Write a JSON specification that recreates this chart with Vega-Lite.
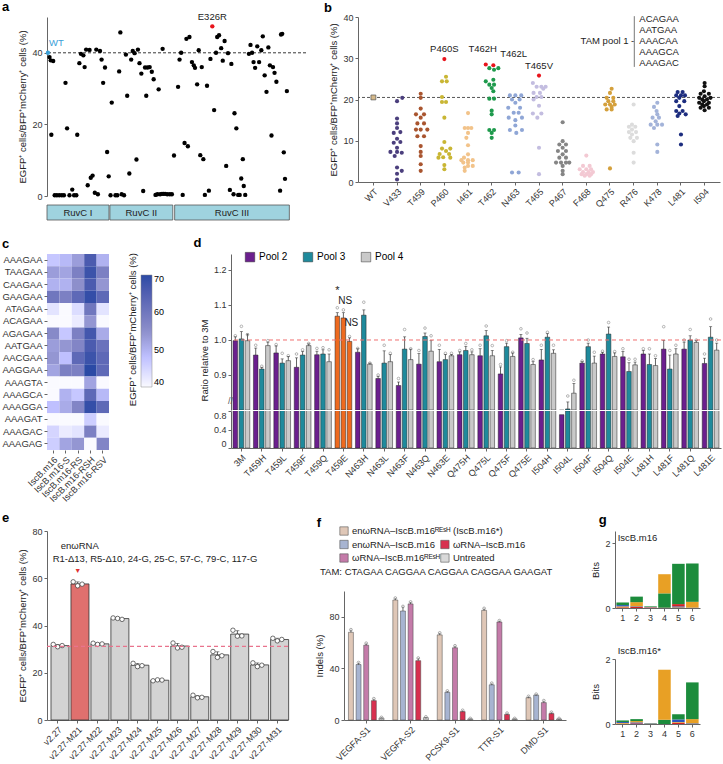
{
"$schema":"https://vega.github.io/schema/vega-lite/v6.json",
"padding":{"left":1,"top":1,"right":0,"bottom":0},
"config":{
 "font":"Liberation Sans",
 "view":{"stroke":null},
 "axis":{"labelFontSize":9,"titleFontSize":9.5,"titleFontWeight":"normal","labelColor":"#333","titleColor":"#222","domainColor":"#666","tickColor":"#666","tickSize":3,"grid":false,"labelPadding":2,"titlePadding":4},
 "title":{"fontSize":13,"fontWeight":"bold","anchor":"start","frame":"bounds","offset":2,"color":"#000"},
 "legend":{"labelFontSize":9.5,"titleFontSize":9.5,"titleFontWeight":"normal"}
},
"datasets":{"dd":[
    {"m":"3M","p":"Pool 2","v":0.998,"hi":1.009,"r":1.012},{"m":"3M","p":"Pool 3","v":1.003,"hi":1.024,"r":1.039},{"m":"3M","p":"Pool 4","v":0.998,"hi":1.017,"r":1.015},
    {"m":"T459H","p":"Pool 2","v":0.957,"hi":0.977,"r":0.985},{"m":"T459H","p":"Pool 3","v":0.917,"hi":0.922,"r":0.925},{"m":"T459H","p":"Pool 4","v":0.984,"hi":0.994,"r":0.998},
    {"m":"T459L","p":"Pool 2","v":0.963,"hi":0.983,"r":0.987},{"m":"T459L","p":"Pool 3","v":0.934,"hi":0.946,"r":0.962},{"m":"T459L","p":"Pool 4","v":0.941,"hi":0.953,"r":0.955},
    {"m":"T459F","p":"Pool 2","v":0.922,"hi":0.949,"r":0.96},{"m":"T459F","p":"Pool 3","v":0.957,"hi":0.967,"r":0.972},{"m":"T459F","p":"Pool 4","v":0.984,"hi":0.989,"r":0.99},
    {"m":"T459Q","p":"Pool 2","v":0.958,"hi":0.968,"r":0.976},{"m":"T459Q","p":"Pool 3","v":0.96,"hi":0.972,"r":0.978},{"m":"T459Q","p":"Pool 4","v":0.938,"hi":0.96,"r":0.972},
    {"m":"T459E","p":"Pool 2","v":1.068,"hi":1.078,"r":1.092},{"m":"T459E","p":"Pool 3","v":1.063,"hi":1.078,"r":1.086},{"m":"T459E","p":"Pool 4","v":0.996,"hi":1.006,"r":1.01},
    {"m":"N463H","p":"Pool 2","v":0.965,"hi":0.975,"r":0.976},{"m":"N463H","p":"Pool 3","v":1.071,"hi":1.086,"r":1.108},{"m":"N463H","p":"Pool 4","v":0.931,"hi":0.934,"r":0.934},
    {"m":"N463L","p":"Pool 2","v":0.89,"hi":0.896,"r":0.9},{"m":"N463L","p":"Pool 3","v":0.934,"hi":0.969,"r":0.985},{"m":"N463L","p":"Pool 4","v":0.938,"hi":0.958,"r":0.962},
    {"m":"N463F","p":"Pool 2","v":0.87,"hi":0.88,"r":0.89},{"m":"N463F","p":"Pool 3","v":0.974,"hi":1.009,"r":1.03},{"m":"N463F","p":"Pool 4","v":0.944,"hi":0.974,"r":0.975},
    {"m":"N463Q","p":"Pool 2","v":0.931,"hi":0.961,"r":0.97},{"m":"N463Q","p":"Pool 3","v":1.01,"hi":1.02,"r":1.034},{"m":"N463Q","p":"Pool 4","v":0.968,"hi":0.998,"r":1.012},
    {"m":"N463E","p":"Pool 2","v":0.938,"hi":0.973,"r":0.985},{"m":"N463E","p":"Pool 3","v":0.944,"hi":0.959,"r":0.962},{"m":"N463E","p":"Pool 4","v":0.955,"hi":0.959,"r":0.962},
    {"m":"Q475H","p":"Pool 2","v":0.958,"hi":0.966,"r":0.97},{"m":"Q475H","p":"Pool 3","v":0.97,"hi":0.982,"r":0.99},{"m":"Q475H","p":"Pool 4","v":0.958,"hi":0.966,"r":0.972},
    {"m":"Q475L","p":"Pool 2","v":0.955,"hi":0.975,"r":0.985},{"m":"Q475L","p":"Pool 3","v":1.012,"hi":1.027,"r":1.04},{"m":"Q475L","p":"Pool 4","v":0.955,"hi":0.97,"r":0.984},
    {"m":"Q475F","p":"Pool 2","v":0.903,"hi":0.923,"r":0.93},{"m":"Q475F","p":"Pool 3","v":0.981,"hi":0.991,"r":0.998},{"m":"Q475F","p":"Pool 4","v":0.953,"hi":0.963,"r":0.965},
    {"m":"Q475E","p":"Pool 2","v":1.006,"hi":1.016,"r":1.032},{"m":"Q475E","p":"Pool 3","v":0.99,"hi":1.005,"r":1.02},{"m":"Q475E","p":"Pool 4","v":0.93,"hi":0.938,"r":0.944},
    {"m":"I504H","p":"Pool 2","v":0.943,"hi":0.973,"r":0.985},{"m":"I504H","p":"Pool 3","v":1.008,"hi":1.018,"r":1.022},{"m":"I504H","p":"Pool 4","v":0.962,"hi":0.972,"r":0.985},
    {"m":"I504L","p":"Pool 2","v":0.72,"hi":0.72,"r":0.72},{"m":"I504L","p":"Pool 3","v":0.803,"hi":0.823,"r":0.84},{"m":"I504L","p":"Pool 4","v":0.848,"hi":0.876,"r":0.885},
    {"m":"I504F","p":"Pool 2","v":0.934,"hi":0.938,"r":0.94},{"m":"I504F","p":"Pool 3","v":0.981,"hi":0.991,"r":1.0},{"m":"I504F","p":"Pool 4","v":0.934,"hi":0.954,"r":0.965},
    {"m":"I504Q","p":"Pool 2","v":0.96,"hi":0.965,"r":0.968},{"m":"I504Q","p":"Pool 3","v":1.017,"hi":1.037,"r":1.05},{"m":"I504Q","p":"Pool 4","v":0.953,"hi":0.963,"r":0.967},
    {"m":"I504E","p":"Pool 2","v":0.952,"hi":0.967,"r":0.975},{"m":"I504E","p":"Pool 3","v":0.91,"hi":0.935,"r":0.945},{"m":"I504E","p":"Pool 4","v":0.929,"hi":0.937,"r":0.945},
    {"m":"L481H","p":"Pool 2","v":0.96,"hi":0.97,"r":0.975},{"m":"L481H","p":"Pool 3","v":0.93,"hi":0.96,"r":0.975},{"m":"L481H","p":"Pool 4","v":0.927,"hi":0.947,"r":0.955},
    {"m":"L481F","p":"Pool 2","v":0.974,"hi":0.999,"r":1.038},{"m":"L481F","p":"Pool 3","v":0.917,"hi":0.957,"r":0.97},{"m":"L481F","p":"Pool 4","v":0.96,"hi":0.975,"r":0.985},
    {"m":"L481Q","p":"Pool 2","v":0.974,"hi":0.994,"r":1.0},{"m":"L481Q","p":"Pool 3","v":1.0,"hi":1.012,"r":1.03},{"m":"L481Q","p":"Pool 4","v":0.993,"hi":0.998,"r":1.0},
    {"m":"L481E","p":"Pool 2","v":0.933,"hi":0.948,"r":0.96},{"m":"L481E","p":"Pool 3","v":1.008,"hi":1.038,"r":1.06},{"m":"L481E","p":"Pool 4","v":0.971,"hi":0.991,"r":1.0}
]},
"columns":1,
"align":"none",
"spacing":8,
"resolve":{"scale":{"x":"independent","y":"independent","color":"independent","fill":"independent","xOffset":"independent"}},
"concat":[
{"columns":1,"align":"none","spacing":16,"resolve":{"scale":{"x":"independent","y":"independent","color":"independent","fill":"independent","xOffset":"independent"}},"concat":[
{"columns":2,"align":"none","spacing":17,"resolve":{"scale":{"x":"independent","y":"independent","color":"independent","fill":"independent","xOffset":"independent"}},"concat":[
 {"spacing":3,"resolve":{"scale":{"x":"independent","y":"independent","color":"independent"}},"vconcat":[
  {"title":{"text":"a","frame":"group","dx":-45,"offset":-2},"width":259,"height":179,
   "layer":[
    {"data":{"values":[{"y":40}]},"mark":{"type":"rule","strokeDash":[3,2],"color":"#222","strokeWidth":0.9},"encoding":{"y":{"field":"y","type":"quantitative","scale":{"domain":[0,50]},"title":"EGFP⁺ cells/BFP⁺mCherry⁺ cells (%)"}}},
    {"data":{"values":[{"p":2.7,"v":38.8},{"p":4,"v":37.9},{"p":6.7,"v":37.7},{"p":4.7,"v":17.1},{"p":8.3,"v":0.2},{"p":10.7,"v":0.2},{"p":13.3,"v":0.2},{"p":16,"v":0.2},{"p":18.3,"v":0.2},{"p":20,"v":31.6},{"p":21.7,"v":18.9},{"p":24.3,"v":0.2},{"p":27.3,"v":1.8},{"p":29.3,"v":0.2},{"p":31.7,"v":0.2},{"p":32.7,"v":17.1},{"p":35,"v":37.1},{"p":36.7,"v":39.7},{"p":39.3,"v":39.3},{"p":40.7,"v":36},{"p":42.3,"v":40.9},{"p":44,"v":3},{"p":46,"v":40.8},{"p":47.3,"v":5.1},{"p":49.3,"v":5.7},{"p":51.7,"v":0.9},{"p":53.3,"v":40.9},{"p":55,"v":0.5},{"p":57.3,"v":40.5},{"p":59,"v":38.1},{"p":60.7,"v":31.6},{"p":62.7,"v":35.9},{"p":65,"v":12.3},{"p":66.7,"v":5.5},{"p":68.7,"v":0.2},{"p":70,"v":26.1},{"p":74,"v":0.2},{"p":76,"v":0.2},{"p":78,"v":34.8},{"p":79.3,"v":45.7},{"p":80.7,"v":0.5},{"p":83.3,"v":0.2},{"p":85.3,"v":39.5},{"p":86.7,"v":28},{"p":89,"v":6.3},{"p":91,"v":38.1},{"p":92.7,"v":40.5},{"p":94.7,"v":39.9},{"p":96.7,"v":10.2},{"p":98.3,"v":40.9},{"p":100,"v":37.1},{"p":102,"v":34.2},{"p":104,"v":1.4},{"p":106,"v":35.9},{"p":107.3,"v":28},{"p":108.7,"v":35.9},{"p":111,"v":36},{"p":113.3,"v":34.7},{"p":115.3,"v":32.6},{"p":117.3,"v":0.3},{"p":119.3,"v":0.5},{"p":120.7,"v":29.8},{"p":122.3,"v":0.5},{"p":124.3,"v":0.6},{"p":125,"v":41.1},{"p":126,"v":0.6},{"p":127.7,"v":0.6},{"p":130,"v":0.5},{"p":132.7,"v":0.5},{"p":135,"v":0.5},{"p":137.3,"v":11.3},{"p":141.7,"v":30.5},{"p":143.3,"v":38.1},{"p":145,"v":40},{"p":146.7,"v":0.3},{"p":148.7,"v":14.8},{"p":150.7,"v":43.9},{"p":152.3,"v":13.9},{"p":154,"v":44.4},{"p":156.7,"v":37.4},{"p":158.7,"v":36.5},{"p":160,"v":35.8},{"p":162.3,"v":31.2},{"p":164,"v":40.7},{"p":165.7,"v":11.4},{"p":167.3,"v":36},{"p":169,"v":10.3},{"p":170.7,"v":0.3},{"p":173,"v":30.8},{"p":175,"v":1.5},{"p":176.7,"v":38.3},{"p":180.7,"v":24},{"p":182.7,"v":40},{"p":184,"v":44.4},{"p":186,"v":44.9},{"p":188.3,"v":41.3},{"p":190,"v":37.8},{"p":192,"v":43.3},{"p":193.7,"v":8.4},{"p":195.7,"v":39.9},{"p":197.7,"v":1.7},{"p":199.3,"v":36.9},{"p":201.7,"v":0.5},{"p":202.7,"v":23.1},{"p":204.7,"v":18.9},{"p":206.7,"v":0.3},{"p":208.3,"v":0.3},{"p":210,"v":4.9},{"p":211.7,"v":10.3},{"p":212.7,"v":2.8},{"p":214.3,"v":0.3},{"p":218.3,"v":39.7},{"p":220,"v":42.2},{"p":221.7,"v":40},{"p":223.3,"v":37.4},{"p":225,"v":35.8},{"p":227.3,"v":41.8},{"p":229.3,"v":37.4},{"p":231.7,"v":40.7},{"p":233.3,"v":44.6},{"p":235.3,"v":33.7},{"p":237.3,"v":29.1},{"p":239.3,"v":41.5},{"p":241,"v":36.5},{"p":242.7,"v":16.9},{"p":244.3,"v":36},{"p":246,"v":34.4},{"p":248,"v":31.9},{"p":252,"v":1.5},{"p":253,"v":45.1},{"p":254.3,"v":45.3},{"p":256,"v":12.2},{"p":257.3,"v":4.8},{"p":259.3,"v":29.3},{"p":1,"v":40,"k":"WT"},{"p":178.7,"v":47.4,"k":"E326R"}]},
     "mark":{"type":"circle","size":19,"opacity":1},
     "encoding":{"x":{"field":"p","type":"quantitative","scale":{"domain":[0,265]},"axis":null},
      "y":{"field":"v","type":"quantitative","scale":{"domain":[0,50]},"axis":{"values":[0,10,20,30,40,50]},"title":"EGFP⁺ cells/BFP⁺mCherry⁺ cells (%)"},
      "color":{"condition":[{"test":"datum.k === 'WT'","value":"#3aa0d8"},{"test":"datum.k === 'E326R'","value":"#e8141c"}],"value":"#000"}}},
    {"data":{"values":[{"p":1,"v":40,"t":"WT"}]},"mark":{"type":"text","fontSize":9.5,"align":"left","dx":1,"dy":-10,"color":"#3aa0d8"},"encoding":{"x":{"field":"p","type":"quantitative"},"y":{"field":"v","type":"quantitative","title":"EGFP⁺ cells/BFP⁺mCherry⁺ cells (%)"},"text":{"field":"t"}}},
    {"data":{"values":[{"p":178.7,"v":47.4,"t":"E326R"}]},"mark":{"type":"text","fontSize":9.5,"dy":-9,"color":"#222"},"encoding":{"x":{"field":"p","type":"quantitative"},"y":{"field":"v","type":"quantitative","title":"EGFP⁺ cells/BFP⁺mCherry⁺ cells (%)"},"text":{"field":"t"}}}
   ]},
  {"width":259,"height":15,
   "data":{"values":[{"n":"RuvC I","s":0,"e":67},{"n":"RuvC II","s":68,"e":136},{"n":"RuvC III","s":138,"e":262}]},
   "transform":[{"calculate":"(datum.s+datum.e)/2","as":"mid"}],
   "layer":[
    {"mark":{"type":"rect","fill":"#9fd3df","stroke":"#555","strokeWidth":0.8},"encoding":{"x":{"field":"s","type":"quantitative","scale":{"domain":[0,265]},"axis":null},"x2":{"field":"e"}}},
    {"mark":{"type":"text","fontSize":9.5,"color":"#222"},"encoding":{"x":{"field":"mid","type":"quantitative","axis":null},"text":{"field":"n"}}}
   ]}
 ]},
 {"title":{"text":"b","frame":"group","dx":-34,"offset":-2},"width":362,"height":165,
  "layer":[
   {"data":{"values":[{"y":20.5}]},"mark":{"type":"rule","strokeDash":[3,2],"color":"#555","strokeWidth":1},"encoding":{"y":{"field":"y","type":"quantitative","scale":{"domain":[0,40]},"title":"EGFP⁺ cells/BFP⁺mCherry⁺ cells (%)"}}},
   {"data":{"values":[
    {"c":"V433","v":19.6,"j":0},{"c":"V433","v":20.4,"j":0.22},{"c":"V433","v":15.4,"j":0},{"c":"V433","v":14.2,"j":0},{"c":"V433","v":13.1,"j":0},{"c":"V433","v":11.9,"j":-0.14},{"c":"V433","v":12.1,"j":0.14},{"c":"V433","v":10.5,"j":0},{"c":"V433","v":9.5,"j":-0.14},{"c":"V433","v":9.7,"j":0.14},{"c":"V433","v":8.3,"j":0},{"c":"V433","v":7.3,"j":-0.28},{"c":"V433","v":7.3,"j":0},{"c":"V433","v":7.1,"j":0.2},{"c":"V433","v":6.3,"j":-0.1},{"c":"V433","v":3.5,"j":0},{"c":"V433","v":2.7,"j":0.2},{"c":"V433","v":2.0,"j":0},{"c":"V433","v":0.6,"j":0},
    {"c":"T459","v":21.4,"j":0},{"c":"T459","v":20.4,"j":0},{"c":"T459","v":17.8,"j":0},{"c":"T459","v":16.4,"j":-0.2},{"c":"T459","v":16.4,"j":0.14},{"c":"T459","v":15.6,"j":0},{"c":"T459","v":14.2,"j":-0.14},{"c":"T459","v":14.2,"j":0.14},{"c":"T459","v":12.7,"j":-0.2},{"c":"T459","v":12.7,"j":0},{"c":"T459","v":12.7,"j":0.28},{"c":"T459","v":11.1,"j":-0.14},{"c":"T459","v":11.1,"j":0.14},{"c":"T459","v":8.7,"j":0},{"c":"T459","v":7.3,"j":0},{"c":"T459","v":6.3,"j":0},{"c":"T459","v":4.3,"j":0},{"c":"T459","v":2.7,"j":0},
    {"c":"P460","v":29.8,"j":0,"n":"P460S"},{"c":"P460","v":25.5,"j":0.07},{"c":"P460","v":24.4,"j":-0.1},{"c":"P460","v":24.4,"j":0.1},{"c":"P460","v":20.6,"j":-0.1},{"c":"P460","v":19.4,"j":-0.1},{"c":"P460","v":19.4,"j":0.07},{"c":"P460","v":15.6,"j":0},{"c":"P460","v":9.7,"j":0},{"c":"P460","v":8.1,"j":-0.1},{"c":"P460","v":8.1,"j":0.25},{"c":"P460","v":7.5,"j":0.07},{"c":"P460","v":6.8,"j":-0.2},{"c":"P460","v":6.8,"j":0.2},{"c":"P460","v":6.0,"j":-0.05},{"c":"P460","v":5.9,"j":-0.25},{"c":"P460","v":5.9,"j":0.25},{"c":"P460","v":4.1,"j":0},{"c":"P460","v":3.1,"j":0},
    {"c":"I461","v":16.7,"j":0},{"c":"I461","v":13.1,"j":-0.14},{"c":"I461","v":13.1,"j":0},{"c":"I461","v":13.1,"j":0.14},{"c":"I461","v":11.9,"j":0},{"c":"I461","v":10.7,"j":-0.07},{"c":"I461","v":8.9,"j":0},{"c":"I461","v":6.7,"j":0},{"c":"I461","v":5.9,"j":-0.17},{"c":"I461","v":5.3,"j":-0.28},{"c":"I461","v":5.3,"j":0},{"c":"I461","v":5.3,"j":0.2},{"c":"I461","v":4.7,"j":-0.2},{"c":"I461","v":4.7,"j":0},{"c":"I461","v":3.9,"j":0},{"c":"I461","v":3.9,"j":0.2},{"c":"I461","v":3.5,"j":-0.14},{"c":"I461","v":2.7,"j":-0.14},
    {"c":"T462","v":28.5,"j":-0.25,"n":"T462H"},{"c":"T462","v":28.3,"j":0.07,"n":"T462L"},{"c":"T462","v":27.6,"j":-0.1},{"c":"T462","v":27.6,"j":0.28},{"c":"T462","v":27.2,"j":0.1},{"c":"T462","v":24.8,"j":0.07},{"c":"T462","v":24.4,"j":-0.25},{"c":"T462","v":23.6,"j":-0.1},{"c":"T462","v":23.6,"j":0.1},{"c":"T462","v":22.8,"j":0},{"c":"T462","v":22.0,"j":0.07},{"c":"T462","v":20.2,"j":-0.1},{"c":"T462","v":20.2,"j":0.1},{"c":"T462","v":17.3,"j":0},{"c":"T462","v":16.4,"j":0},{"c":"T462","v":12.6,"j":-0.1},{"c":"T462","v":12.6,"j":0.1},{"c":"T462","v":11.9,"j":0},{"c":"T462","v":10.7,"j":0},
    {"c":"N463","v":21.0,"j":-0.23},{"c":"N463","v":21.0,"j":0},{"c":"N463","v":21.0,"j":0.25},{"c":"N463","v":20.0,"j":-0.14},{"c":"N463","v":20.0,"j":0.18},{"c":"N463","v":19.2,"j":0},{"c":"N463","v":18.0,"j":-0.3},{"c":"N463","v":18.0,"j":0.2},{"c":"N463","v":16.8,"j":-0.07},{"c":"N463","v":16.8,"j":0.14},{"c":"N463","v":15.6,"j":-0.28},{"c":"N463","v":15.6,"j":0.28},{"c":"N463","v":15.0,"j":0},{"c":"N463","v":13.7,"j":0},{"c":"N463","v":12.6,"j":-0.23},{"c":"N463","v":12.6,"j":0.28},{"c":"N463","v":11.9,"j":0.04},{"c":"N463","v":2.3,"j":-0.14},{"c":"N463","v":2.3,"j":0.14},
    {"c":"T465","v":25.8,"j":0,"n":"T465V"},{"c":"T465","v":24.0,"j":-0.26},{"c":"T465","v":23.1,"j":-0.1},{"c":"T465","v":23.1,"j":0.1},{"c":"T465","v":23.1,"j":0.28},{"c":"T465","v":22.6,"j":0.18},{"c":"T465","v":21.6,"j":-0.23},{"c":"T465","v":21.6,"j":0.04},{"c":"T465","v":20.6,"j":-0.1},{"c":"T465","v":20.6,"j":0.1},{"c":"T465","v":20.0,"j":-0.23},{"c":"T465","v":18.5,"j":0},{"c":"T465","v":16.6,"j":-0.26},{"c":"T465","v":16.6,"j":0.1},{"c":"T465","v":15.6,"j":-0.07},{"c":"T465","v":8.3,"j":0},{"c":"T465","v":1.9,"j":0},
    {"c":"P467","v":14.5,"j":0},{"c":"P467","v":9.9,"j":0},{"c":"P467","v":9.1,"j":-0.14},{"c":"P467","v":9.1,"j":0.14},{"c":"P467","v":8.3,"j":0},{"c":"P467","v":7.5,"j":-0.2},{"c":"P467","v":7.5,"j":0.14},{"c":"P467","v":6.7,"j":0},{"c":"P467","v":5.9,"j":-0.14},{"c":"P467","v":5.9,"j":0.14},{"c":"P467","v":4.7,"j":-0.28},{"c":"P467","v":4.7,"j":-0.07},{"c":"P467","v":4.7,"j":0.14},{"c":"P467","v":4.7,"j":0.28},{"c":"P467","v":3.9,"j":0},{"c":"P467","v":2.7,"j":0},{"c":"P467","v":1.9,"j":0},
    {"c":"F468","v":6.4,"j":0},{"c":"F468","v":3.9,"j":-0.14},{"c":"F468","v":3.9,"j":0.14},{"c":"F468","v":3.1,"j":-0.28},{"c":"F468","v":3.1,"j":0},{"c":"F468","v":3.1,"j":0.2},{"c":"F468","v":2.4,"j":-0.14},{"c":"F468","v":2.4,"j":0.1},{"c":"F468","v":2.4,"j":0.28},{"c":"F468","v":1.9,"j":-0.2},{"c":"F468","v":1.9,"j":0},{"c":"F468","v":1.9,"j":0.2},{"c":"F468","v":1.5,"j":-0.07},{"c":"F468","v":1.5,"j":0.14},
    {"c":"Q475","v":22.6,"j":0.07},{"c":"Q475","v":21.6,"j":0},{"c":"Q475","v":20.4,"j":-0.14},{"c":"Q475","v":20.4,"j":0.14},{"c":"Q475","v":19.6,"j":-0.07},{"c":"Q475","v":19.6,"j":0.14},{"c":"Q475","v":18.8,"j":-0.2},{"c":"Q475","v":18.8,"j":0},{"c":"Q475","v":18.8,"j":0.2},{"c":"Q475","v":18.2,"j":0.07},{"c":"Q475","v":17.6,"j":-0.14},{"c":"Q475","v":17.6,"j":0.07},{"c":"Q475","v":3.3,"j":0},
    {"c":"R476","v":18.8,"j":0},{"c":"R476","v":13.9,"j":-0.07},{"c":"R476","v":13.4,"j":-0.2},{"c":"R476","v":13.4,"j":0.07},{"c":"R476","v":12.7,"j":-0.07},{"c":"R476","v":12.1,"j":-0.2},{"c":"R476","v":12.1,"j":0.1},{"c":"R476","v":11.5,"j":-0.07},{"c":"R476","v":10.7,"j":-0.14},{"c":"R476","v":10.7,"j":0.14},{"c":"R476","v":9.9,"j":0},{"c":"R476","v":7.1,"j":0},{"c":"R476","v":4.7,"j":0},
    {"c":"K478","v":19.2,"j":0},{"c":"K478","v":18.2,"j":-0.14},{"c":"K478","v":17.2,"j":-0.03},{"c":"K478","v":16.4,"j":0},{"c":"K478","v":15.6,"j":-0.2},{"c":"K478","v":15.6,"j":0.07},{"c":"K478","v":14.7,"j":-0.07},{"c":"K478","v":13.9,"j":-0.28},{"c":"K478","v":13.9,"j":0},{"c":"K478","v":13.9,"j":0.2},{"c":"K478","v":13.1,"j":-0.14},{"c":"K478","v":9.1,"j":0},{"c":"K478","v":7.3,"j":0},
    {"c":"L481","v":21.8,"j":-0.14},{"c":"L481","v":21.8,"j":0.07},{"c":"L481","v":21.0,"j":-0.2},{"c":"L481","v":21.0,"j":0},{"c":"L481","v":21.0,"j":0.17},{"c":"L481","v":20.4,"j":-0.07},{"c":"L481","v":19.6,"j":-0.2},{"c":"L481","v":19.6,"j":0.14},{"c":"L481","v":18.4,"j":-0.07},{"c":"L481","v":17.2,"j":-0.2},{"c":"L481","v":17.2,"j":0.07},{"c":"L481","v":16.6,"j":-0.07},{"c":"L481","v":16.4,"j":0.2},{"c":"L481","v":16.0,"j":-0.14},{"c":"L481","v":11.5,"j":0},{"c":"L481","v":9.1,"j":0},
    {"c":"I504","v":24.0,"j":0},{"c":"I504","v":23.2,"j":0},{"c":"I504","v":22.0,"j":-0.03},{"c":"I504","v":21.4,"j":-0.17},{"c":"I504","v":21.4,"j":0.18},{"c":"I504","v":20.8,"j":0},{"c":"I504","v":20.4,"j":-0.23},{"c":"I504","v":20.4,"j":0.25},{"c":"I504","v":20.0,"j":-0.1},{"c":"I504","v":20.0,"j":0.1},{"c":"I504","v":19.6,"j":-0.03},{"c":"I504","v":19.2,"j":-0.23},{"c":"I504","v":19.2,"j":0.18},{"c":"I504","v":18.8,"j":-0.1},{"c":"I504","v":18.8,"j":0.1},{"c":"I504","v":18.4,"j":-0.03},{"c":"I504","v":18.0,"j":-0.17},{"c":"I504","v":18.0,"j":0.18},{"c":"I504","v":17.4,"j":0}
   ]},
    "transform":[{"calculate":"datum.n ? 'hit' : datum.c","as":"f"}],
    "mark":{"type":"circle","size":17,"opacity":1},
    "encoding":{
     "x":{"field":"c","type":"nominal","scale":{"type":"band","domain":["WT","V433","T459","P460","I461","T462","N463","T465","P467","F468","Q475","R476","K478","L481","I504"],"paddingInner":0,"paddingOuter":0.15},"axis":{"labelAngle":-45,"title":null}},
     "xOffset":{"field":"j","type":"quantitative","scale":{"domain":[-0.5,0.5]}},
     "y":{"field":"v","type":"quantitative","scale":{"domain":[0,40]},"axis":{"values":[0,10,20,30,40]},"title":"EGFP⁺ cells/BFP⁺mCherry⁺ cells (%)"},
     "color":{"field":"f","type":"nominal","scale":{"domain":["WT","V433","T459","P460","I461","T462","N463","T465","P467","F468","Q475","R476","K478","L481","I504","hit"],"range":["#d5b98a","#4b3f7d","#a9552f","#c9b634","#f2c38a","#1e9a4c","#8fa6d6","#c3bde0","#858585","#f3c9d3","#d4a03c","#dcdcdc","#a3b3d9","#1d2d7f","#111111","#e8141c"]},"legend":null}}},
   {"data":{"values":[{"c":"WT","v":20.5}]},"mark":{"type":"square","size":24,"fill":"#d5b98a","stroke":"#555","strokeWidth":0.7,"opacity":1},"encoding":{"x":{"field":"c","type":"nominal"},"y":{"field":"v","type":"quantitative","title":"EGFP⁺ cells/BFP⁺mCherry⁺ cells (%)"}}},
   {"data":{"values":[{"c":"P460","v":29.8,"t":"P460S"},{"c":"T465","v":25.8,"t":"T465V"}]},"mark":{"type":"text","fontSize":9.5,"dy":-10,"color":"#222"},"encoding":{"x":{"field":"c","type":"nominal"},"y":{"field":"v","type":"quantitative"},"text":{"field":"t"}}},
   {"data":{"values":[{"c":"T462","v":28.5,"t":"T462H"}]},"mark":{"type":"text","fontSize":9.5,"dx":-9,"dy":-15,"color":"#222"},"encoding":{"x":{"field":"c","type":"nominal"},"y":{"field":"v","type":"quantitative"},"text":{"field":"t"}}},
   {"data":{"values":[{"c":"T462","v":28.5,"t":"T462L"}]},"mark":{"type":"text","fontSize":9.5,"dx":22,"dy":-10,"color":"#222"},"encoding":{"x":{"field":"c","type":"nominal"},"y":{"field":"v","type":"quantitative"},"text":{"field":"t"}}},
   {"data":{"values":[{"c":"K478","v":39.5,"t":"ACAGAA"},{"c":"K478","v":36.8,"t":"AATGAA"},{"c":"K478","v":34.2,"t":"AAACAA"},{"c":"K478","v":31.5,"t":"AAAGCA"},{"c":"K478","v":28.8,"t":"AAAGAC"}]},"mark":{"type":"text","fontSize":9.5,"align":"left","dx":-18,"color":"#222"},"encoding":{"x":{"field":"c","type":"nominal"},"y":{"field":"v","type":"quantitative"},"text":{"field":"t"}}},
   {"data":{"values":[{"c":"K478","v":34.2,"t":"TAM pool 1 -"}]},"mark":{"type":"text","fontSize":9.5,"align":"right","dx":-23,"color":"#222"},"encoding":{"x":{"field":"c","type":"nominal"},"y":{"field":"v","type":"quantitative"},"text":{"field":"t"}}},
   {"data":{"values":[{"c":"K478","a":40.2,"b":27.9}]},"mark":{"type":"rule","color":"#555","strokeWidth":0.8,"xOffset":-23},"encoding":{"x":{"field":"c","type":"nominal"},"y":{"field":"a","type":"quantitative"},"y2":{"field":"b"}}}
  ]}
]},
{"columns":2,"align":"none","spacing":28,"resolve":{"scale":{"x":"independent","y":"independent","color":"independent","fill":"independent","xOffset":"independent"}},"concat":[
 {"title":{"text":"c","frame":"group","dx":-45,"offset":2},"width":62,"height":196,
  "layer":[
   {"data":{"values":[
   {"r":"AAAGAA","c":"IscB.m16","v":47},{"r":"AAAGAA","c":"IscB.m16-S","v":49},{"r":"AAAGAA","c":"IscB.m16-RS","v":53},{"r":"AAAGAA","c":"IscB.m16-RSH","v":66},{"r":"AAAGAA","c":"IscB.m16-RSV","v":50},
   {"r":"TAAGAA","c":"IscB.m16","v":53},{"r":"TAAGAA","c":"IscB.m16-S","v":52},{"r":"TAAGAA","c":"IscB.m16-RS","v":58},{"r":"TAAGAA","c":"IscB.m16-RSH","v":68},{"r":"TAAGAA","c":"IscB.m16-RSV","v":58},
   {"r":"CAAGAA","c":"IscB.m16","v":50},{"r":"CAAGAA","c":"IscB.m16-S","v":50},{"r":"CAAGAA","c":"IscB.m16-RS","v":55},{"r":"CAAGAA","c":"IscB.m16-RSH","v":66},{"r":"CAAGAA","c":"IscB.m16-RSV","v":54},
   {"r":"GAAGAA","c":"IscB.m16","v":60},{"r":"GAAGAA","c":"IscB.m16-S","v":58},{"r":"GAAGAA","c":"IscB.m16-RS","v":63},{"r":"GAAGAA","c":"IscB.m16-RSH","v":69},{"r":"GAAGAA","c":"IscB.m16-RSV","v":63},
   {"r":"ATAGAA","c":"IscB.m16","v":43},{"r":"ATAGAA","c":"IscB.m16-S","v":40},{"r":"ATAGAA","c":"IscB.m16-RS","v":44},{"r":"ATAGAA","c":"IscB.m16-RSH","v":60},{"r":"ATAGAA","c":"IscB.m16-RSV","v":43},
   {"r":"ACAGAA","c":"IscB.m16","v":40},{"r":"ACAGAA","c":"IscB.m16-S","v":40},{"r":"ACAGAA","c":"IscB.m16-RS","v":42},{"r":"ACAGAA","c":"IscB.m16-RSH","v":54},{"r":"ACAGAA","c":"IscB.m16-RSV","v":40},
   {"r":"AGAGAA","c":"IscB.m16","v":56},{"r":"AGAGAA","c":"IscB.m16-S","v":47},{"r":"AGAGAA","c":"IscB.m16-RS","v":58},{"r":"AGAGAA","c":"IscB.m16-RSH","v":67},{"r":"AGAGAA","c":"IscB.m16-RSV","v":51},
   {"r":"AATGAA","c":"IscB.m16","v":53},{"r":"AATGAA","c":"IscB.m16-S","v":54},{"r":"AATGAA","c":"IscB.m16-RS","v":57},{"r":"AATGAA","c":"IscB.m16-RSH","v":66},{"r":"AATGAA","c":"IscB.m16-RSV","v":61},
   {"r":"AACGAA","c":"IscB.m16","v":54},{"r":"AACGAA","c":"IscB.m16-S","v":48},{"r":"AACGAA","c":"IscB.m16-RS","v":63},{"r":"AACGAA","c":"IscB.m16-RSH","v":68},{"r":"AACGAA","c":"IscB.m16-RSV","v":63},
   {"r":"AAGGAA","c":"IscB.m16","v":52},{"r":"AAGGAA","c":"IscB.m16-S","v":58},{"r":"AAGGAA","c":"IscB.m16-RS","v":58},{"r":"AAGGAA","c":"IscB.m16-RSH","v":70},{"r":"AAGGAA","c":"IscB.m16-RSV","v":63},
   {"r":"AAAGTA","c":"IscB.m16","v":40},{"r":"AAAGTA","c":"IscB.m16-S","v":40},{"r":"AAAGTA","c":"IscB.m16-RS","v":40},{"r":"AAAGTA","c":"IscB.m16-RSH","v":52},{"r":"AAAGTA","c":"IscB.m16-RSV","v":40},
   {"r":"AAAGCA","c":"IscB.m16","v":40},{"r":"AAAGCA","c":"IscB.m16-S","v":50},{"r":"AAAGCA","c":"IscB.m16-RS","v":47},{"r":"AAAGCA","c":"IscB.m16-RSH","v":63},{"r":"AAAGCA","c":"IscB.m16-RSV","v":49},
   {"r":"AAAGGA","c":"IscB.m16","v":48},{"r":"AAAGGA","c":"IscB.m16-S","v":51},{"r":"AAAGGA","c":"IscB.m16-RS","v":57},{"r":"AAAGGA","c":"IscB.m16-RSH","v":69},{"r":"AAAGGA","c":"IscB.m16-RSV","v":63},
   {"r":"AAAGAT","c":"IscB.m16","v":40},{"r":"AAAGAT","c":"IscB.m16-S","v":40},{"r":"AAAGAT","c":"IscB.m16-RS","v":40},{"r":"AAAGAT","c":"IscB.m16-RSH","v":46},{"r":"AAAGAT","c":"IscB.m16-RSV","v":40},
   {"r":"AAAGAC","c":"IscB.m16","v":45},{"r":"AAAGAC","c":"IscB.m16-S","v":42},{"r":"AAAGAC","c":"IscB.m16-RS","v":43},{"r":"AAAGAC","c":"IscB.m16-RSH","v":58},{"r":"AAAGAC","c":"IscB.m16-RSV","v":42},
   {"r":"AAAGAG","c":"IscB.m16","v":46},{"r":"AAAGAG","c":"IscB.m16-S","v":52},{"r":"AAAGAG","c":"IscB.m16-RS","v":54},{"r":"AAAGAG","c":"IscB.m16-RSH","v":40},{"r":"AAAGAG","c":"IscB.m16-RSV","v":57}
   ]},
    "mark":{"type":"rect"},
    "encoding":{
     "x":{"field":"c","type":"nominal","scale":{"domain":["IscB.m16","IscB.m16-S","IscB.m16-RS","IscB.m16-RSH","IscB.m16-RSV"]},"axis":{"labelAngle":-45,"title":null,"domain":false}},
     "y":{"field":"r","type":"nominal","scale":{"domain":["AAAGAA","TAAGAA","CAAGAA","GAAGAA","ATAGAA","ACAGAA","AGAGAA","AATGAA","AACGAA","AAGGAA","AAAGTA","AAAGCA","AAAGGA","AAAGAT","AAAGAC","AAAGAG"]},"axis":{"title":null,"domain":false,"labelFontSize":9.5}},
     "color":{"field":"v","type":"quantitative","scale":{"domain":[40,55,70],"range":["#ffffff","#8d8fcb","#2b4aa5"]},
      "legend":{"orient":"none","legendX":94,"legendY":21,"title":null,"gradientLength":112,"gradientThickness":11,"values":[40,50,60,70],"labelFontSize":9,"gradientStrokeColor":"#888","gradientStrokeWidth":0.5}}}},
   {"data":{"values":[{"c":"IscB.m16-RSV","r":"AGAGAA","t":"EGFP⁺ cells/BFP⁺mCherry⁺ cells (%)"}]},
    "mark":{"type":"text","angle":270,"fontSize":9.5,"xOffset":30,"yOffset":-4,"color":"#222","align":"center","baseline":"middle"},
    "encoding":{"x":{"field":"c","type":"nominal"},"y":{"field":"r","type":"nominal"},"text":{"field":"t"}}}
  ]},
 {"title":{"text":"d","dx":-6},"spacing":0,"resolve":{"scale":{"x":"independent","y":"independent","color":"independent","xOffset":"independent"}},"vconcat":[
  {"width":490,"height":156,
   "layer":[
    {"data":{"name":"dd"},"transform":[{"calculate":"datum.m === 'T459E' ? 'hl' : datum.p","as":"f"}],
     "layer":[
      {"mark":{"type":"bar","stroke":"#222","strokeWidth":0.5,"clip":true},
       "encoding":{
        "x":{"field":"m","type":"nominal","scale":{"domain":["3M","T459H","T459L","T459F","T459Q","T459E","N463H","N463L","N463F","N463Q","N463E","Q475H","Q475L","Q475F","Q475E","I504H","I504L","I504F","I504Q","I504E","L481H","L481F","L481Q","L481E"],"paddingInner":0.18,"paddingOuter":0.1},"axis":null},
        "xOffset":{"field":"p","type":"nominal","scale":{"domain":["Pool 2","Pool 3","Pool 4"],"paddingInner":0.25}},
        "y":{"field":"v","type":"quantitative","scale":{"domain":[0.8,1.2457],"zero":false,"nice":false},"axis":{"values":[0.9,1.0,1.1,1.2],"format":".1f","titleY":106},"title":"Ratio relative to 3M"},
        "y2":{"datum":0.8},
        "color":{"field":"f","type":"nominal","scale":{"domain":["Pool 2","Pool 3","Pool 4","hl"],"range":["#6b1f8e","#1f8a9c","#c9c9c9","#ee6a1f"]},
         "legend":{"values":["Pool 2","Pool 3","Pool 4"],"orient":"none","legendX":14,"legendY":-2,"direction":"horizontal","title":null,"symbolType":"square","symbolSize":90,"labelFontSize":10,"symbolStrokeColor":"#333","symbolStrokeWidth":0.5,"columnPadding":14}}}},
      {"mark":{"type":"rule","color":"#222","strokeWidth":0.7,"clip":true},"encoding":{"x":{"field":"m","type":"nominal"},"xOffset":{"field":"p","type":"nominal"},"y":{"field":"v","type":"quantitative","title":"Ratio relative to 3M"},"y2":{"field":"hi"}}},
      {"mark":{"type":"tick","color":"#222","thickness":0.7,"size":3,"clip":true},"encoding":{"x":{"field":"m","type":"nominal"},"xOffset":{"field":"p","type":"nominal"},"y":{"field":"hi","type":"quantitative","title":"Ratio relative to 3M"}}},
      {"mark":{"type":"point","shape":"circle","size":7,"filled":false,"stroke":"#555","strokeWidth":0.6,"clip":true},"encoding":{"x":{"field":"m","type":"nominal"},"xOffset":{"field":"p","type":"nominal"},"y":{"field":"r","type":"quantitative","title":"Ratio relative to 3M"}}}
     ]},
    {"data":{"values":[{"y":1}]},"mark":{"type":"rule","color":"#f07070","strokeDash":[4,3],"strokeWidth":1},"encoding":{"y":{"field":"y","type":"quantitative","title":"Ratio relative to 3M"}}},
    {"data":{"values":[{"m":"3M","y":0.825,"t":"//"}]},"mark":{"type":"text","fontSize":9,"dx":-11,"color":"#555"},"encoding":{"x":{"field":"m","type":"nominal"},"y":{"field":"y","type":"quantitative","title":"Ratio relative to 3M"},"text":{"field":"t"}}},
    {"data":{"values":[{"m":"T459E","p":"Pool 2","y":1.14,"t":"*"}]},"mark":{"type":"text","fontSize":11,"color":"#222"},"encoding":{"x":{"field":"m","type":"nominal"},"xOffset":{"field":"p","type":"nominal"},"y":{"field":"y","type":"quantitative","title":"Ratio relative to 3M"},"text":{"field":"t"}}},
    {"data":{"values":[{"m":"T459E","p":"Pool 2","y":1.112,"t":"NS"},{"m":"T459E","p":"Pool 3","y":1.049,"t":"NS"}]},"mark":{"type":"text","fontSize":10,"align":"left","dx":1,"color":"#222"},"encoding":{"x":{"field":"m","type":"nominal"},"xOffset":{"field":"p","type":"nominal"},"y":{"field":"y","type":"quantitative","title":"Ratio relative to 3M"},"text":{"field":"t"}}}
   ]},
  {"width":490,"height":37,
   "data":{"name":"dd"},"transform":[{"calculate":"datum.m === 'T459E' ? 'hl' : datum.p","as":"f"}],
   "mark":{"type":"bar","stroke":"#222","strokeWidth":0.5,"clip":true},
   "encoding":{
    "x":{"field":"m","type":"nominal","scale":{"domain":["3M","T459H","T459L","T459F","T459Q","T459E","N463H","N463L","N463F","N463Q","N463E","Q475H","Q475L","Q475F","Q475E","I504H","I504L","I504F","I504Q","I504E","L481H","L481F","L481Q","L481E"],"paddingInner":0.18,"paddingOuter":0.1},"axis":{"labelAngle":-45,"title":null}},
    "xOffset":{"field":"p","type":"nominal","scale":{"domain":["Pool 2","Pool 3","Pool 4"],"paddingInner":0.25}},
    "y":{"field":"v","type":"quantitative","scale":{"domain":[0,0.8],"nice":false},"axis":{"values":[0,0.4,0.8],"labelFlush":true,"labelExpr":"datum.value == 0 ? '0' : format(datum.value, '.1f')"},"title":null},
    "color":{"field":"f","type":"nominal","scale":{"domain":["Pool 2","Pool 3","Pool 4","hl"],"range":["#6b1f8e","#1f8a9c","#c9c9c9","#ee6a1f"]},"legend":null}}}
 ]}
]}
]},
{"columns":3,"align":"none","spacing":24,"resolve":{"scale":{"x":"independent","y":"independent","color":"independent","fill":"independent","xOffset":"independent"}},"concat":[
 {"title":{"text":"e","frame":"group","dx":-45,"offset":2},"width":241,"height":189,
  "layer":[
   {"data":{"values":[
    {"m":"v2.27","rep":1,"v":32},{"m":"v2.27","rep":2,"v":31},{"m":"v2.27","rep":3,"v":31.5},
    {"m":"v2.27-M21","rep":1,"v":58.5},{"m":"v2.27-M21","rep":2,"v":56.8},{"m":"v2.27-M21","rep":3,"v":57.5},
    {"m":"v2.27-M22","rep":1,"v":32.5},{"m":"v2.27-M22","rep":2,"v":32},{"m":"v2.27-M22","rep":3,"v":32.2},
    {"m":"v2.27-M23","rep":1,"v":43.2},{"m":"v2.27-M23","rep":2,"v":43},{"m":"v2.27-M23","rep":3,"v":42.6},
    {"m":"v2.27-M24","rep":1,"v":24},{"m":"v2.27-M24","rep":2,"v":22.6},{"m":"v2.27-M24","rep":3,"v":23},
    {"m":"v2.27-M25","rep":1,"v":16.6},{"m":"v2.27-M25","rep":2,"v":17},{"m":"v2.27-M25","rep":3,"v":16.9},
    {"m":"v2.27-M26","rep":1,"v":32.6},{"m":"v2.27-M26","rep":2,"v":30.5},{"m":"v2.27-M26","rep":3,"v":30.8},
    {"m":"v2.27-M27","rep":1,"v":10.5},{"m":"v2.27-M27","rep":2,"v":9.4},{"m":"v2.27-M27","rep":3,"v":9.6},
    {"m":"v2.27-M28","rep":1,"v":29},{"m":"v2.27-M28","rep":2,"v":26.5},{"m":"v2.27-M28","rep":3,"v":27.2},
    {"m":"v2.27-M29","rep":1,"v":38},{"m":"v2.27-M29","rep":2,"v":35.5},{"m":"v2.27-M29","rep":3,"v":35.6},
    {"m":"v2.27-M30","rep":1,"v":24.2},{"m":"v2.27-M30","rep":2,"v":22.6},{"m":"v2.27-M30","rep":3,"v":23.2},
    {"m":"v2.27-M31","rep":1,"v":34.6},{"m":"v2.27-M31","rep":2,"v":33.5},{"m":"v2.27-M31","rep":3,"v":34.1}
   ]},
    "layer":[
     {"mark":{"type":"bar","stroke":"#333","strokeWidth":0.8},
      "encoding":{
       "x":{"field":"m","type":"nominal","scale":{"domain":["v2.27","v2.27-M21","v2.27-M22","v2.27-M23","v2.27-M24","v2.27-M25","v2.27-M26","v2.27-M27","v2.27-M28","v2.27-M29","v2.27-M30","v2.27-M31"],"paddingInner":0.33,"paddingOuter":0.2},"axis":{"labelAngle":-45,"title":null}},
       "y":{"aggregate":"mean","field":"v","type":"quantitative","scale":{"domain":[0,80]},"axis":{"values":[0,20,40,60,80]},"title":"EGFP⁺ cells/BFP⁺mCherry⁺ cells (%)"},
       "color":{"condition":{"test":"datum.m === 'v2.27-M21'","value":"#e0706e"},"value":"#d3d3d3"}}},
     {"mark":{"type":"errorbar","extent":"stdev","ticks":{"size":4},"color":"#333","thickness":0.8},"encoding":{"x":{"field":"m","type":"nominal"},"y":{"field":"v","type":"quantitative","title":"EGFP⁺ cells/BFP⁺mCherry⁺ cells (%)"}}},
     {"mark":{"type":"point","shape":"circle","filled":true,"fill":"#ffffff","stroke":"#333","strokeWidth":0.7,"size":20,"opacity":1},"encoding":{"x":{"field":"m","type":"nominal"},"xOffset":{"field":"rep","type":"nominal"},"y":{"field":"v","type":"quantitative","title":"EGFP⁺ cells/BFP⁺mCherry⁺ cells (%)"}}}
    ]},
   {"data":{"values":[{"y":31.2}]},"mark":{"type":"rule","color":"#e9738d","strokeDash":[4,3],"strokeWidth":1.2},"encoding":{"y":{"field":"y","type":"quantitative","title":"EGFP⁺ cells/BFP⁺mCherry⁺ cells (%)"}}},
   {"data":{"values":[{"m":"v2.27","y":73.6,"t":"enωRNA"}]},"mark":{"type":"text","fontSize":9.5,"align":"left","dx":3,"color":"#222"},"encoding":{"x":{"field":"m","type":"nominal"},"y":{"field":"y","type":"quantitative"},"text":{"field":"t"}}},
   {"data":{"values":[{"m":"v2.27","y":68.1,"t":"R1-Δ13, R5-Δ10, 24-G, 25-C, 57-C, 79-C, 117-G"}]},"mark":{"type":"text","fontSize":9.5,"align":"left","dx":-5,"color":"#222"},"encoding":{"x":{"field":"m","type":"nominal"},"y":{"field":"y","type":"quantitative"},"text":{"field":"t"}}},
   {"data":{"values":[{"m":"v2.27-M21","y":63,"t":"▼"}]},"mark":{"type":"text","fontSize":7,"color":"#e03030"},"encoding":{"x":{"field":"m","type":"nominal"},"y":{"field":"y","type":"quantitative"},"text":{"field":"t"}}}
  ]},
 {"spacing":6,"resolve":{"scale":{"x":"independent","y":"independent","fill":"independent","xOffset":"independent"}},"vconcat":[
  {"width":222,"height":54,
   "layer":[
    {"data":{"values":[{"col":0,"row":0,"g":"a"},{"col":0,"row":1,"g":"b"},{"col":1,"row":1,"g":"d"},{"col":0,"row":2,"g":"c"},{"col":1,"row":2,"g":"u"}]},
     "mark":{"type":"square","size":70,"stroke":"#555","strokeWidth":0.6,"opacity":1},
     "encoding":{"x":{"field":"col","type":"quantitative","scale":{"domain":[0.08,2.1]},"axis":null},"y":{"field":"row","type":"quantitative","scale":{"domain":[0.133,3.733],"reverse":true},"axis":null},
      "fill":{"field":"g","type":"nominal","scale":{"domain":["a","b","c","d","u"],"range":["#dfc7b7","#a7b4d1","#c47ba9","#d8304f","#d9d9d9"]},"legend":null}}},
    {"data":{"values":[{"col":0,"row":0,"t":"enωRNA–IscB.m16ᴿᴱˢᴴ (IscB.m16*)"},{"col":0,"row":1,"t":"enωRNA–IscB.m16"},{"col":1,"row":1,"t":"ωRNA–IscB.m16"},{"col":0,"row":2,"t":"ωRNA–IscB.m16ᴿᴱˢᴴ"},{"col":1,"row":2,"t":"Untreated"}]},
     "mark":{"type":"text","align":"left","dx":8,"fontSize":9.5,"color":"#222"},
     "encoding":{"x":{"field":"col","type":"quantitative"},"y":{"field":"row","type":"quantitative"},"text":{"field":"t"}}},
    {"data":{"values":[{"col":0,"row":3,"t":"TAM: CTAGAA  CAGGAA CAGGAA CAGGAA   GAAGAT"}]},
     "mark":{"type":"text","align":"left","dx":-24,"fontSize":9.5,"color":"#222"},
     "encoding":{"x":{"field":"col","type":"quantitative"},"y":{"field":"row","type":"quantitative"},"text":{"field":"t"}}},
    {"data":{"values":[{"col":-0.27,"row":-0.6,"t":"f"}]},
     "mark":{"type":"text","align":"left","fontSize":13,"fontWeight":"bold","color":"#000"},
     "encoding":{"x":{"field":"col","type":"quantitative"},"y":{"field":"row","type":"quantitative"},"text":{"field":"t"}}}
   ]},
  {"width":222,"height":129,
   "data":{"values":[
    {"s":"VEGFA-S1","g":"a","v":68,"hi":70},{"s":"VEGFA-S1","g":"b","v":43,"hi":44.5},{"s":"VEGFA-S1","g":"c","v":58,"hi":59.5},{"s":"VEGFA-S1","g":"d","v":15,"hi":16.5},{"s":"VEGFA-S1","g":"u","v":1.5,"hi":2},
    {"s":"VEGFA-S2","g":"a","v":93,"hi":94.5},{"s":"VEGFA-S2","g":"b","v":84.5,"hi":88},{"s":"VEGFA-S2","g":"c","v":90,"hi":91.5},{"s":"VEGFA-S2","g":"d","v":46,"hi":48},{"s":"VEGFA-S2","g":"u","v":1.8,"hi":2.4},
    {"s":"PCSK9-S1","g":"a","v":66,"hi":67.5},{"s":"PCSK9-S1","g":"b","v":21.5,"hi":22.5},{"s":"PCSK9-S1","g":"c","v":56,"hi":57.5},{"s":"PCSK9-S1","g":"d","v":6.5,"hi":7.5},{"s":"PCSK9-S1","g":"u","v":0.8,"hi":1.2},
    {"s":"TTR-S1","g":"a","v":85,"hi":86.5},{"s":"TTR-S1","g":"b","v":27.3,"hi":28.5},{"s":"TTR-S1","g":"c","v":76,"hi":77},{"s":"TTR-S1","g":"d","v":4.3,"hi":5.3},{"s":"TTR-S1","g":"u","v":0.8,"hi":1.2},
    {"s":"DMD-S1","g":"a","v":17.3,"hi":18.3},{"s":"DMD-S1","g":"b","v":19.3,"hi":20},{"s":"DMD-S1","g":"c","v":13.5,"hi":15},{"s":"DMD-S1","g":"d","v":5,"hi":6},{"s":"DMD-S1","g":"u","v":0.8,"hi":1.2}
   ]},
   "layer":[
    {"mark":{"type":"bar","stroke":"#444","strokeWidth":0.5},
     "encoding":{
      "x":{"field":"s","type":"nominal","scale":{"domain":["VEGFA-S1","VEGFA-S2","PCSK9-S1","TTR-S1","DMD-S1"],"paddingInner":0.2,"paddingOuter":0.1},"axis":{"labelAngle":-45,"title":null}},
      "xOffset":{"field":"g","type":"nominal","scale":{"domain":["a","b","c","d","u"],"paddingInner":0.35}},
      "y":{"field":"v","type":"quantitative","scale":{"domain":[0,100]},"axis":{"values":[0,20,40,60,80,100]},"title":"Indels (%)"},
      "fill":{"field":"g","type":"nominal","scale":{"domain":["a","b","c","d","u"],"range":["#dfc7b7","#a7b4d1","#c47ba9","#d8304f","#d9d9d9"]},"legend":null}}},
    {"mark":{"type":"rule","color":"#333","strokeWidth":0.7},"encoding":{"x":{"field":"s","type":"nominal"},"xOffset":{"field":"g","type":"nominal"},"y":{"field":"v","type":"quantitative","title":"Indels (%)"},"y2":{"field":"hi"}}},
    {"mark":{"type":"point","shape":"circle","size":8,"filled":false,"stroke":"#444","strokeWidth":0.6},"encoding":{"x":{"field":"s","type":"nominal"},"xOffset":{"field":"g","type":"nominal"},"y":{"field":"hi","type":"quantitative","title":"Indels (%)"}}}
   ]}
 ]},
 {"spacing":23,"resolve":{"scale":{"x":"independent","y":"independent","color":"independent"}},"vconcat":[
  {"width":85,"height":77,
   "layer":[
    {"data":{"values":[
     {"p":1,"l":"T","b":0.02,"o":1},{"p":1,"l":"G","b":0.03,"o":2},{"p":1,"l":"C","b":0.04,"o":3},{"p":1,"l":"A","b":0.08,"o":4},
     {"p":2,"l":"T","b":0.03,"o":1},{"p":2,"l":"C","b":0.02,"o":2},{"p":2,"l":"G","b":0.13,"o":3},{"p":2,"l":"A","b":0.17,"o":4},
     {"p":3,"l":"G","b":0.01,"o":1},{"p":3,"l":"C","b":0.01,"o":2},{"p":3,"l":"T","b":0.01,"o":3},{"p":3,"l":"A","b":0.02,"o":4},
     {"p":4,"l":"T","b":0.01,"o":1},{"p":4,"l":"A","b":0.44,"o":2},{"p":4,"l":"G","b":0.59,"o":3},
     {"p":5,"l":"G","b":0.02,"o":1},{"p":5,"l":"C","b":0.03,"o":2},{"p":5,"l":"T","b":0.07,"o":3},{"p":5,"l":"A","b":1.24,"o":4},
     {"p":6,"l":"C","b":0.01,"o":1},{"p":6,"l":"G","b":0.18,"o":2},{"p":6,"l":"A","b":1.18,"o":3}
    ]},
     "mark":{"type":"bar"},
     "encoding":{"x":{"field":"p","type":"ordinal","scale":{"domain":[1,2,3,4,5,6],"paddingInner":0.1,"paddingOuter":0.1},"axis":{"labelAngle":0,"title":null}},
      "y":{"field":"b","type":"quantitative","stack":"zero","scale":{"domain":[0,2.37],"nice":false},"axis":{"values":[0,1,2]},"title":"Bits"},
      "color":{"field":"l","type":"nominal","scale":{"domain":["A","C","G","T"],"range":["#1c8c3c","#2a55c0","#e8a025","#d42424"]},"legend":null},
      "order":{"field":"o","type":"quantitative"}}},
    {"data":{"values":[{"p":1,"y":2.15,"t":"IscB.m16"}]},"mark":{"type":"text","align":"left","dx":-5,"fontSize":9.5,"color":"#222"},"encoding":{"x":{"field":"p","type":"ordinal"},"y":{"field":"y","type":"quantitative","title":"Bits"},"text":{"field":"t"}}},
    {"data":{"values":[{"p":1,"y":2.71,"t":"g"}]},"mark":{"type":"text","align":"left","dx":-24,"fontSize":13,"fontWeight":"bold","color":"#000"},"encoding":{"x":{"field":"p","type":"ordinal"},"y":{"field":"y","type":"quantitative","title":"Bits"},"text":{"field":"t"}}}
   ]},
  {"width":85,"height":65,
   "layer":[
    {"data":{"values":[
     {"p":1,"l":"T","b":0.01,"o":1},{"p":1,"l":"G","b":0.02,"o":2},{"p":1,"l":"C","b":0.03,"o":3},{"p":1,"l":"A","b":0.05,"o":4},
     {"p":2,"l":"T","b":0.02,"o":1},{"p":2,"l":"C","b":0.03,"o":2},{"p":2,"l":"G","b":0.04,"o":3},{"p":2,"l":"A","b":0.06,"o":4},
     {"p":3,"l":"A","b":0.01,"o":1},{"p":3,"l":"G","b":0.01,"o":2},{"p":3,"l":"C","b":0.01,"o":3},
     {"p":4,"l":"A","b":0.13,"o":1},{"p":4,"l":"G","b":1.54,"o":2},
     {"p":5,"l":"T","b":0.04,"o":1},{"p":5,"l":"G","b":0.02,"o":2},{"p":5,"l":"C","b":0.08,"o":3},{"p":5,"l":"A","b":0.16,"o":4},
     {"p":6,"l":"C","b":0.02,"o":1},{"p":6,"l":"G","b":0.13,"o":2},{"p":6,"l":"A","b":1.13,"o":3}
    ]},
     "mark":{"type":"bar"},
     "encoding":{"x":{"field":"p","type":"ordinal","scale":{"domain":[1,2,3,4,5,6],"paddingInner":0.1,"paddingOuter":0.1},"axis":{"labelAngle":0,"title":null}},
      "y":{"field":"b","type":"quantitative","stack":"zero","scale":{"domain":[0,2]},"axis":{"values":[0,1,2]},"title":"Bits"},
      "color":{"field":"l","type":"nominal","scale":{"domain":["A","C","G","T"],"range":["#1c8c3c","#2a55c0","#e8a025","#d42424"]},"legend":null},
      "order":{"field":"o","type":"quantitative"}}},
    {"data":{"values":[{"p":1,"y":2.25,"t":"IscB.m16*"}]},"mark":{"type":"text","align":"left","dx":-5,"fontSize":9.5,"color":"#222"},"encoding":{"x":{"field":"p","type":"ordinal"},"y":{"field":"y","type":"quantitative","title":"Bits"},"text":{"field":"t"}}}
   ]}
 ]}
]}
]
}
